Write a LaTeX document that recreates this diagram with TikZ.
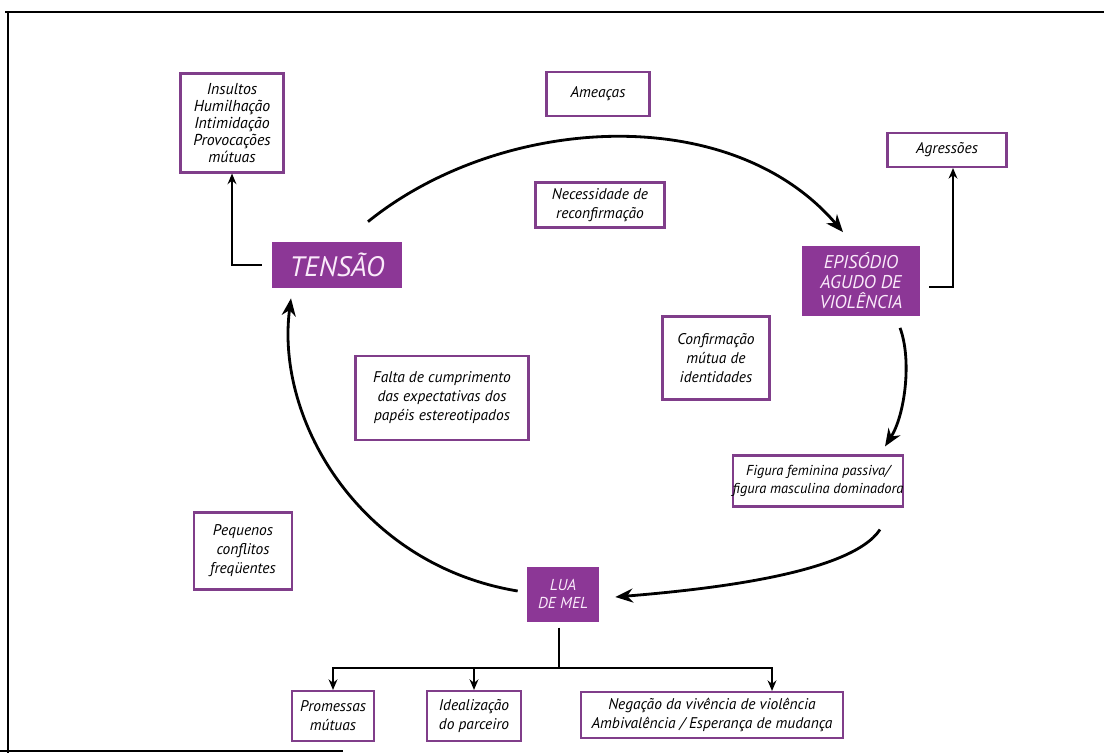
\documentclass[tikz,border=0pt]{standalone}
\usepackage{fontspec}
\setmainfont{PT Sans}
\usetikzlibrary{arrows.meta}
\definecolor{roxo}{RGB}{140,55,150}
\definecolor{roxoborda}{RGB}{128,62,138}
\definecolor{rosa}{RGB}{250,234,250}

\begin{document}
\begin{tikzpicture}[x=0.02cm, y=-0.02cm,
		every node/.style={rectangle, align=center, inner sep=0pt, font=\itshape\fontsize{8.8}{10.8}\selectfont},
		box/.style={draw=roxoborda, line width=1.2pt, fill=white},
		fase/.style={fill=roxo, text=rosa},
		ciclo/.style={line width=1.6pt, -{Stealth[length=10pt, width=8pt]}},
		liga/.style={line width=1.1pt, -{Stealth[length=6pt, width=5pt]}}]
	
	\useasboundingbox (0,0) rectangle (1104,753);
	
	% Frame
	\draw[line width=1.1pt] (5,12) -- (1104,12);
	\draw[line width=1.1pt] (8,12) -- (8,753);
	\draw[line width=1.1pt] (0,751) -- (343,751);
	
	% Nodes
	\node[fase, minimum width=2.6cm, minimum height=0.92cm, font=\itshape\fontsize{16}{18}\selectfont] (tensao) at (337,265) {TENSÃO};
	\node[fase, minimum width=2.36cm, minimum height=1.42cm, font=\itshape\fontsize{10.5}{11.4}\selectfont] (episodio) at (861,281) {EPISÓDIO\\AGUDO DE\\VIOLÊNCIA};
	\node[fase, minimum width=1.44cm, minimum height=1.1cm, font=\itshape\fontsize{9}{9.8}\selectfont] (lua) at (563,594) {LUA\\DE MEL};
	
	\node[box, minimum width=2.06cm, minimum height=1.98cm, font=\itshape\fontsize{9}{9.7}\selectfont] (insultos) at (232,123) {Insultos\\Humilhação\\Intimidação\\Provocações\\mútuas};
	\node[box, minimum width=2.06cm, minimum height=0.88cm] (ameacas) at (598,94) {Ameaças};
	\node[box, minimum width=2.58cm, minimum height=0.9cm] (necessidade) at (600,205) {Necessidade de\\reconfirmação};
	\node[box, minimum width=2.38cm, minimum height=0.68cm] (agressoes) at (947,150) {Agressões};
	\node[box, minimum width=2.14cm, minimum height=1.66cm] (confirmacao) at (716,358) {Confirmação\\mútua de\\identidades};
	\node[box, minimum width=3.4cm, minimum height=1.02cm, font=\itshape\fontsize{8.2}{10.4}\selectfont] (figura) at (818,481) {Figura feminina passiva/\\figura masculina dominadora};
	\node[box, minimum width=3.46cm, minimum height=1.68cm] (falta) at (442,398) {Falta de cumprimento\\das expectativas dos\\papéis estereotipados};
	\node[box, minimum width=1.96cm, minimum height=1.54cm] (pequenos) at (243,551) {Pequenos\\conflitos\\freqüentes};
	
	\node[box, minimum width=1.64cm, minimum height=1.0cm] (promessas) at (333,716) {Promessas\\mútuas};
	\node[box, minimum width=1.88cm, minimum height=1.0cm] (idealizacao) at (474,716) {Idealização\\do parceiro};
	\node[box, minimum width=5.24cm, minimum height=0.92cm] (negacao) at (712,715) {Negação da vivência de violência\\Ambivalência / Esperança de mudança};
	
	% Edges
	\draw[ciclo] ([shift={(31,-20)}]tensao.north) .. controls (500,115) and (730,100) .. ([shift={(-18,-13)}]episodio.north);
	\draw[ciclo] ([shift={(39,11)}]episodio.south) .. controls (912,360) and (905,415) .. ([shift={(67,-8)}]figura.north);
	\draw[ciclo] ([shift={(62,22)}]figura.south) .. controls (850,575) and (700,590) .. ([shift={(16,3)}]lua.east);
	\draw[ciclo] ([shift={(-9,-3)}]lua.west) .. controls (360,565) and (275,420) .. ([shift={(-46,10)}]tensao.south);
	
	\draw[liga] ([shift={(-10,0)}]tensao.west) -| (insultos.south);
	\draw[liga] ([shift={(9,6)}]episodio.east) -| ([shift={(6,0)}]agressoes.south);
	
	\draw[liga] ([shift={(-4,6)}]lua.south) -- ++(0,40) -| (promessas.north);
	\draw[liga] ([shift={(-4,6)}]lua.south) -- ++(0,40) -| (idealizacao.north);
	\draw[liga] ([shift={(-4,6)}]lua.south) -- ++(0,40) -| ([shift={(60,0)}]negacao.north);
	
\end{tikzpicture}
\end{document}
